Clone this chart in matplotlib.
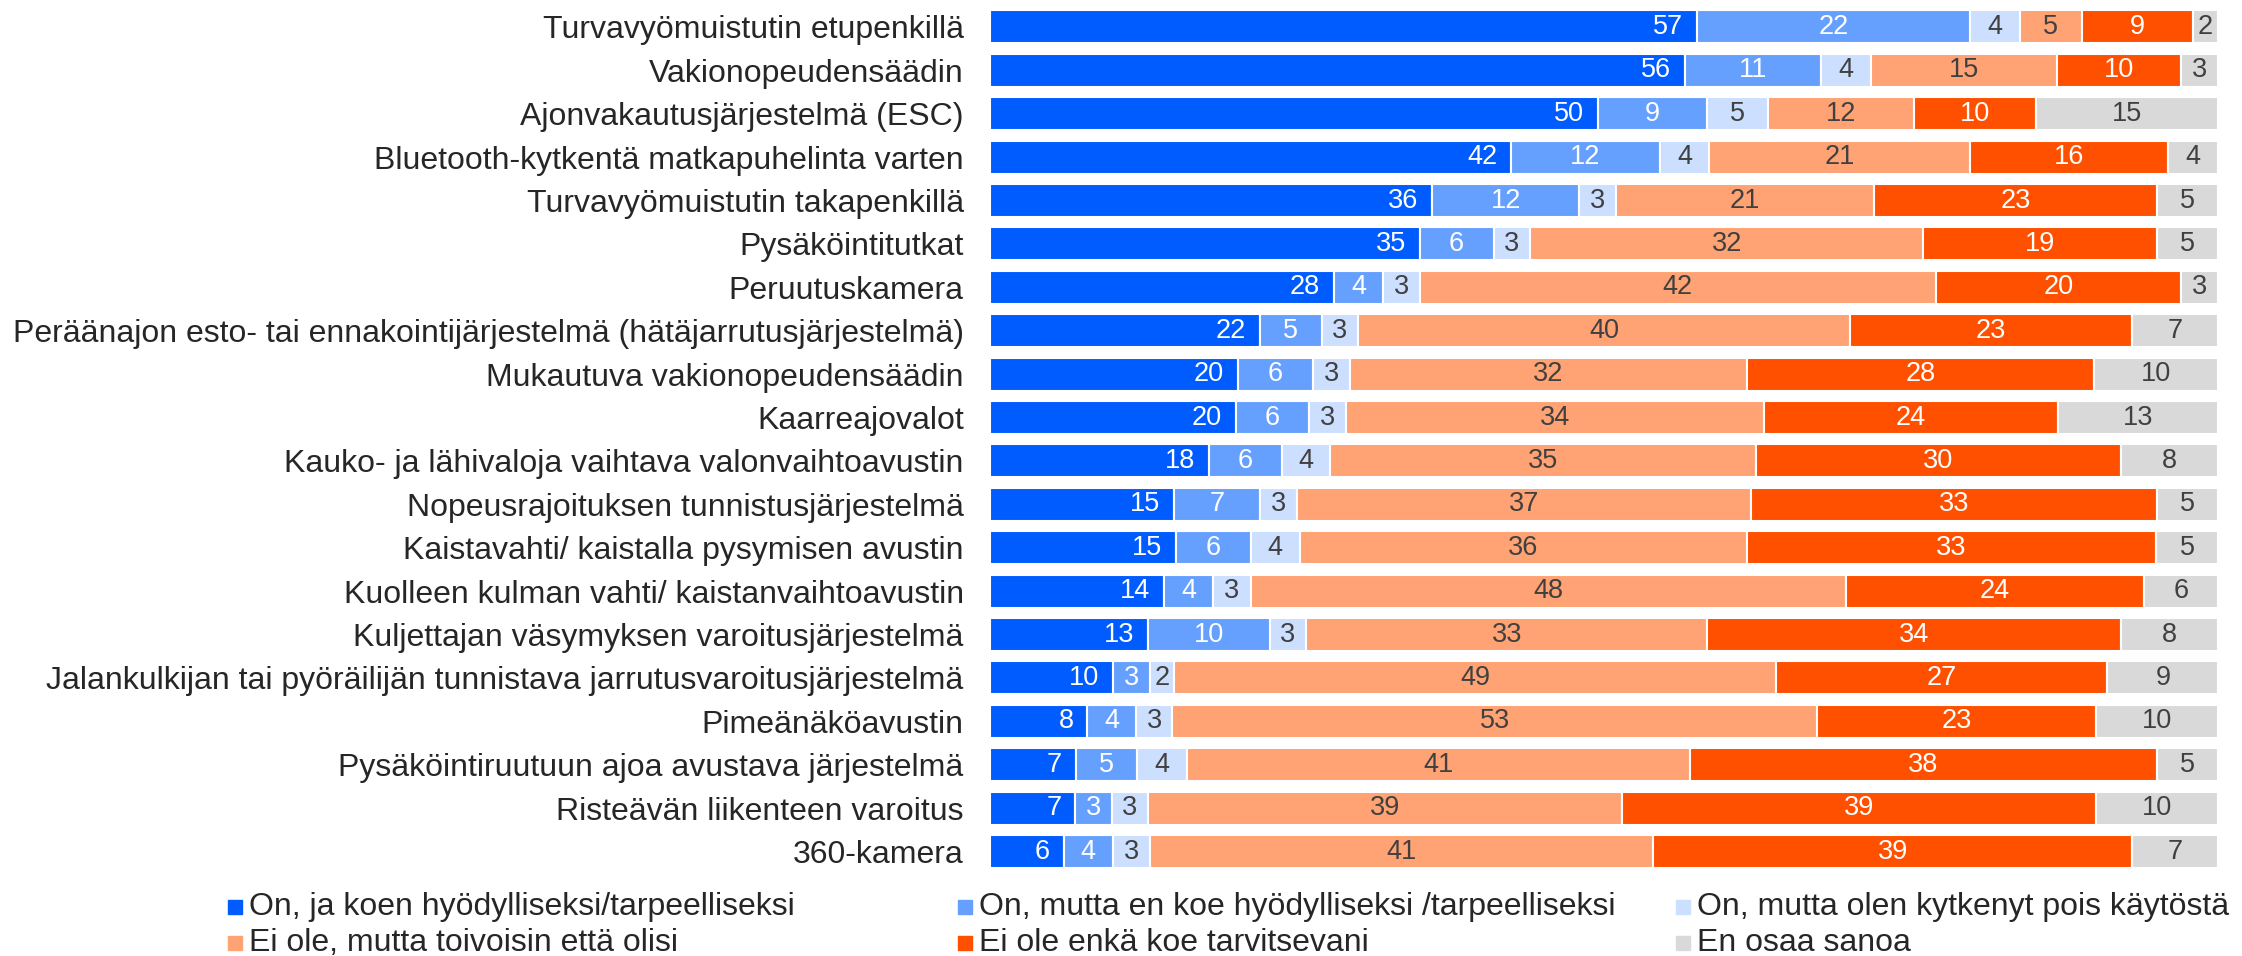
import numpy as np
import matplotlib.pyplot as plt
from matplotlib.patches import Rectangle

plt.rcParams['font.family'] = ['Liberation Sans', 'DejaVu Sans']

# Kategoriat (ylhäältä alas)
kategoriat = [
    "Turvavyömuistutin etupenkillä",
    "Vakionopeudensäädin",
    "Ajonvakautusjärjestelmä (ESC)",
    "Bluetooth-kytkentä matkapuhelinta varten",
    "Turvavyömuistutin takapenkillä",
    "Pysäköintitutkat",
    "Peruutuskamera",
    "Peräänajon esto- tai ennakointijärjestelmä (hätäjarrutusjärjestelmä)",
    "Mukautuva vakionopeudensäädin",
    "Kaarreajovalot",
    "Kauko- ja lähivaloja vaihtava valonvaihtoavustin",
    "Nopeusrajoituksen tunnistusjärjestelmä",
    "Kaistavahti/ kaistalla pysymisen avustin",
    "Kuolleen kulman vahti/ kaistanvaihtoavustin",
    "Kuljettajan väsymyksen varoitusjärjestelmä",
    "Jalankulkijan tai pyöräilijän tunnistava jarrutusvaroitusjärjestelmä",
    "Pimeänäköavustin",
    "Pysäköintiruutuun ajoa avustava järjestelmä",
    "Risteävän liikenteen varoitus",
    "360-kamera",
]

sarjat = [
    "On, ja koen hyödylliseksi/tarpeelliseksi",
    "On, mutta en koe hyödylliseksi /tarpeelliseksi",
    "On, mutta olen kytkenyt pois käytöstä",
    "Ei ole, mutta toivoisin että olisi",
    "Ei ole enkä koe tarvitsevani",
    "En osaa sanoa",
]

on_hyodyllinen = [57, 56, 50, 42, 36, 35, 28, 22, 20, 20, 18, 15, 15, 14, 13, 10, 8, 7, 7, 6]
on_ei_hyodyllinen = [22, 11, 9, 12, 12, 6, 4, 5, 6, 6, 6, 7, 6, 4, 10, 3, 4, 5, 3, 4]
on_pois_kaytosta = [4, 4, 5, 4, 3, 3, 3, 3, 3, 3, 4, 3, 4, 3, 3, 2, 3, 4, 3, 3]
ei_toivoisin = [5, 15, 12, 21, 21, 32, 42, 40, 32, 34, 35, 37, 36, 48, 33, 49, 53, 41, 39, 41]
ei_tarvitse = [9, 10, 10, 16, 23, 19, 20, 23, 28, 24, 30, 33, 33, 24, 34, 27, 23, 38, 39, 39]
en_osaa = [2, 3, 15, 4, 5, 5, 3, 7, 10, 13, 8, 5, 5, 6, 8, 9, 10, 5, 10, 7]

varit = ["#005CFF", "#66A0FF", "#CCDFFF", "#FFA374", "#FF5000", "#D9D9D9"]
tekstivarit = ["white", "white", "#404040", "#404040", "white", "#404040"]

data = np.array([on_hyodyllinen, on_ei_hyodyllinen, on_pois_kaytosta,
                 ei_toivoisin, ei_tarvitse, en_osaa], dtype=float)
osuus = data / data.sum(axis=0) * 100

fig = plt.figure(figsize=(22.42, 9.56), dpi=100)
ax = fig.add_axes([0.4416, 0.0866, 0.5477, 0.9079])

y = np.arange(len(kategoriat))
vasen = np.zeros(len(kategoriat))
for i in range(len(sarjat)):
    palkit = ax.barh(y, osuus[i], left=vasen, height=0.76, color=varit[i],
                     edgecolor="white", linewidth=1.5, label=sarjat[i])
    arvot = [f"{v:.0f}" for v in data[i]]
    if i == 0:
        # ensimmäisen sarjan luvut palkin sisäpäähän
        tekstit = ax.bar_label(palkit, labels=arvot, label_type="edge", padding=-10,
                               color=tekstivarit[i], fontsize=19.5)
        for t in tekstit:
            t.set_ha("right")
    else:
        ax.bar_label(palkit, labels=arvot, label_type="center",
                     color=tekstivarit[i], fontsize=19.5)
    vasen += osuus[i]

ax.set_xlim(0, 100)
ax.set_ylim(len(kategoriat) - 0.5, -0.5)
ax.set_yticks(y)
ax.set_yticklabels(kategoriat, fontsize=23, color="#262626")
ax.tick_params(axis="y", length=0, pad=19)
ax.set_xticks([])
for s in ax.spines.values():
    s.set_visible(False)

# Selite: kaksi riviä, kolme saraketta
sarake_x = [0.1017, 0.4273, 0.7476]
rivi_y = [0.0513, 0.0136]
for i, nimi in enumerate(sarjat):
    px = sarake_x[i % 3]
    py = rivi_y[i // 3]
    fig.patches.append(Rectangle((px, py - 0.0073), 0.0062, 0.0146, color=varit[i],
                                 transform=fig.transFigure, figure=fig))
    fig.text(px + 0.0094, py, nimi, fontsize=23, color="#262626",
             va="center", ha="left")

fig.savefig("out.png", dpi=100)
